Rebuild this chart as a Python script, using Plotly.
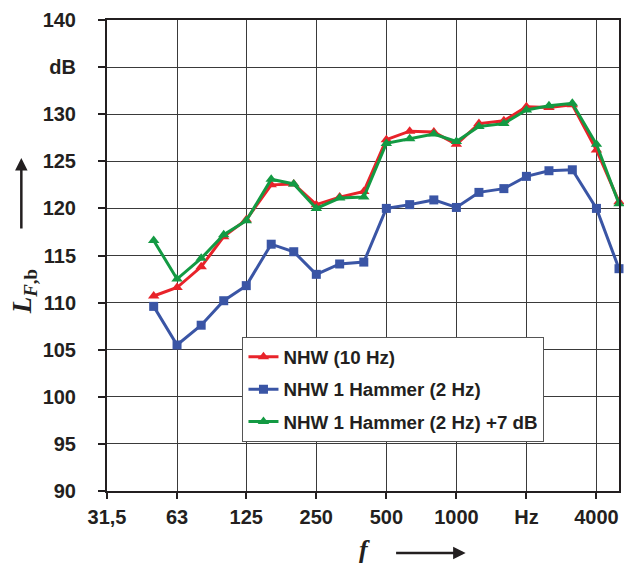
import numpy as np
import plotly.graph_objects as go

freqs = [50, 63, 80, 100, 125, 160, 200, 250, 315, 400, 500, 630, 800,
         1000, 1250, 1600, 2000, 2500, 3150, 4000, 5000]

nhw_10hz = [110.7, 111.6, 113.8, 117.0, 118.8, 122.5, 122.6, 120.4, 121.2, 121.8,
            127.3, 128.2, 128.1, 126.8, 129.0, 129.3, 130.8, 130.7, 131.0, 126.2, 120.7]
nhw_1h = [109.6, 105.5, 107.6, 110.2, 111.8, 116.2, 115.4, 113.0, 114.1, 114.3,
          120.0, 120.4, 120.9, 120.1, 121.7, 122.1, 123.4, 124.0, 124.1, 120.0, 113.6]
nhw_1h_p7 = [116.6, 112.5, 114.7, 117.2, 118.7, 123.1, 122.6, 120.0, 121.1, 121.2,
             126.9, 127.4, 127.9, 127.1, 128.7, 129.0, 130.45, 130.9, 131.15, 126.8, 120.5]

names = ["NHW (10 Hz)", "NHW 1 Hammer (2 Hz)", "NHW 1 Hammer (2 Hz) +7 dB"]
colors = ["#e8232a", "#3a55a5", "#139a43"]
symbols = ["triangle-up", "square", "triangle-up"]

x_tickvals = [31.5, 63, 125, 250, 500, 1000, 2000, 4000]
x_ticktext = ["31,5", "63", "125", "250", "500", "1000", "Hz", "4000"]
y_tickvals = [90, 95, 100, 105, 110, 115, 120, 125, 130, 135, 140]
y_ticktext = ["90", "95", "100", "105", "110", "115", "120", "125", "130", "dB", "140"]

fig = go.Figure()
for i, (vals, nm) in enumerate(zip([nhw_10hz, nhw_1h, nhw_1h_p7], names)):
    fig.add_trace(go.Scatter(
        x=freqs, y=vals, name=nm, mode="lines+markers",
        line=dict(color=colors[i], width=3),
        marker=dict(symbol=symbols[i], size=9 if symbols[i] == "square" else 10, color=colors[i]),
        legendgroup=f"g{i}", cliponaxis=False,
    ))

font_main = "Liberation Sans, Arial, sans-serif"
fig.update_layout(
    width=624, height=564,
    margin=dict(l=107, r=3, t=20, b=73),
    paper_bgcolor="white", plot_bgcolor="white",
    font=dict(family=font_main, color="#231f20"),
    showlegend=True,
    legend=dict(
        x=0.2646, y=0.327, xanchor="left", yanchor="top",
        bgcolor="white", bordercolor="#555555", borderwidth=1,
        font=dict(size=18.8, family=font_main, color="#231f20", weight="bold"),
        tracegroupgap=5, itemwidth=30,
    ),
    xaxis=dict(
        type="log", range=[np.log10(31.5), np.log10(5000)],
        tickvals=x_tickvals, ticktext=x_ticktext,
        tickfont=dict(size=20, family=font_main, color="#231f20", weight="bold"),
        showgrid=True, gridcolor="#3a3a3a", gridwidth=1,
        showline=True, linecolor="#231f20", linewidth=2, mirror=True,
        ticks="outside", ticklen=6, tickcolor="#231f20", tickwidth=1.5,
        ticklabelstandoff=1,
        zeroline=False,
    ),
    yaxis=dict(
        range=[90, 140], tickvals=y_tickvals, ticktext=y_ticktext,
        tickfont=dict(size=20, family=font_main, color="#231f20", weight="bold"),
        showgrid=True, gridcolor="#3a3a3a", gridwidth=1,
        showline=True, linecolor="#231f20", linewidth=2, mirror=True,
        ticks="outside", ticklen=7, tickcolor="#231f20", tickwidth=1.5,
        ticklabelstandoff=18,
        zeroline=False,
    ),
)

serif = "Liberation Serif, Times New Roman, serif"
# y-axis title
fig.add_annotation(
    xref="paper", yref="paper", x=(24 - 107) / 514, y=(491 - 292) / 471,
    text="<b><i>L</i></b><sub><b><i>F</i>,b</b></sub>",
    textangle=-90, showarrow=False,
    font=dict(family=serif, size=27, color="#231f20"),
    xanchor="center", yanchor="middle",
)
# y arrow
fig.add_annotation(
    xref="paper", yref="paper", x=(21 - 107) / 514, y=(491 - 158) / 471,
    ax=0, ay=72, text="", showarrow=True,
    arrowhead=2, arrowsize=1, arrowwidth=2.5, arrowcolor="#231f20",
)
# x-axis title
fig.add_annotation(
    xref="paper", yref="paper", x=(366 - 107) / 514, y=(491 - 549) / 471,
    text="<b><i>f</i></b>", showarrow=False,
    font=dict(family=serif, size=26, color="#231f20"),
    xanchor="center", yanchor="middle",
)
# x arrow
fig.add_annotation(
    xref="paper", yref="paper", x=(467 - 107) / 514, y=(491 - 553) / 471,
    ax=-71, ay=0, text="", showarrow=True,
    arrowhead=2, arrowsize=1, arrowwidth=2.5, arrowcolor="#231f20",
)

fig.write_html("out.html")
